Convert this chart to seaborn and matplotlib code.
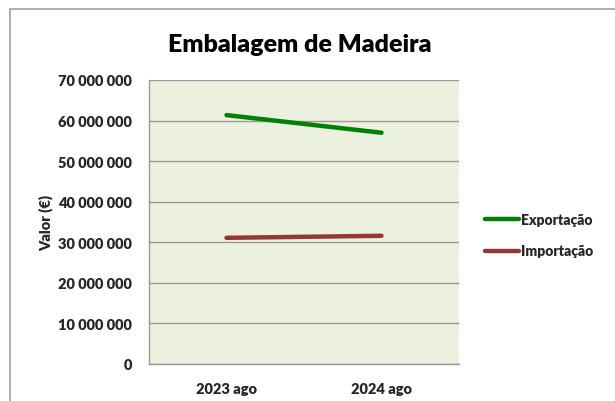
import matplotlib
matplotlib.use("Agg")
import matplotlib.pyplot as plt
import seaborn as sns
import pandas as pd
from matplotlib.ticker import FuncFormatter, MultipleLocator
from matplotlib.patches import Rectangle
from matplotlib.lines import Line2D

periods = ["2023 ago", "2024 ago"]
exportacao = [61350000, 57000000]
importacao = [31100000, 31600000]
series_names = ["Exportação", "Importação"]
colors = ["#008000", "#953735"]

df = pd.DataFrame({
    "Período": periods * 2,
    "Valor": exportacao + importacao,
    "Série": [series_names[0]] * 2 + [series_names[1]] * 2,
})

sns.set_theme(style="white")
plt.rcParams["font.family"] = ["Lato", "DejaVu Sans"]

fig = plt.figure(figsize=(6.15, 4.02), dpi=100)
ax = fig.add_axes([149/615, 1 - 365/402, (459-149)/615, (365-81)/402])

sns.lineplot(data=df, x="Período", y="Valor", hue="Série", palette=colors,
             linewidth=3.2, ax=ax, legend=False, sort=False)
for ln in ax.lines:
    ln.set_solid_capstyle("round")

ax.set_facecolor("#EBF1DE")
ax.set_xlim(-0.5, 1.5)
ax.set_ylim(0, 70000000)
ax.yaxis.set_major_locator(MultipleLocator(10000000))
ax.yaxis.set_major_formatter(FuncFormatter(lambda v, p: f"{int(v):,}".replace(",", " ")))
ax.grid(axis="y", color="#999999", linewidth=1)
ax.set_axisbelow(True)
for s in ["top", "right"]:
    ax.spines[s].set_visible(False)
for s in ["left", "bottom"]:
    ax.spines[s].set_color("#999999")
    ax.spines[s].set_linewidth(1)
ax.tick_params(axis="both", length=0, labelsize=10.5, pad=12)
ax.tick_params(axis="x", pad=13)
for lab in ax.get_xticklabels() + ax.get_yticklabels():
    lab.set_fontweight("heavy")
ax.set_xlabel("")
ax.set_ylabel("Valor (€)", fontsize=10.5, fontweight="heavy", labelpad=4)
ax.yaxis.set_label_coords(-0.31, 0.5)

fig.text(300/615, 1 - 45/402, "Embalagem de Madeira", ha="center", va="center",
         fontsize=18, fontweight="heavy", color="black")

handles = [Line2D([0], [0], color=c, linewidth=3.2) for c in colors]
leg = fig.legend(handles, series_names, loc="center left",
                 bbox_to_anchor=(472/615, 1 - 236/402), frameon=False,
                 prop={"weight": "heavy", "size": 10}, handlelength=2.5,
                 handletextpad=0.1, labelspacing=1.35)

fig.patches.append(Rectangle((10/615, -0.1), 1.2, 1 - 10/402 + 0.1,
                             transform=fig.transFigure, fill=False,
                             edgecolor="#A0A0A0", linewidth=1.2))

fig.savefig("out.png", dpi=100)
